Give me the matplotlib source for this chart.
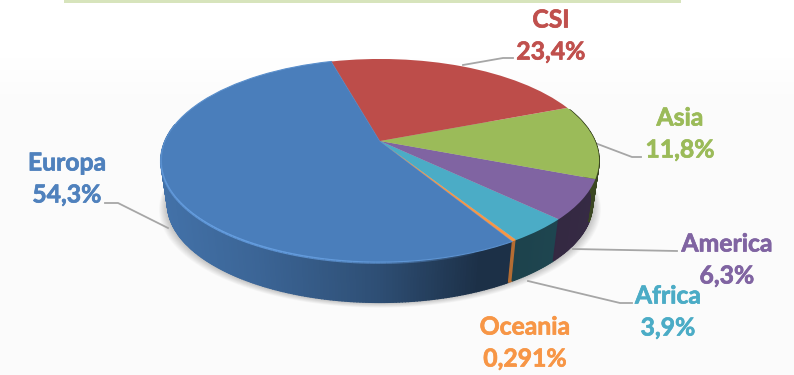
#!/usr/bin/env python3
"""Tilted 3D-look pie of shares by region."""

import matplotlib

matplotlib.use("Agg")
import matplotlib.pyplot as plt
import matplotlib.patheffects as pe
import numpy as np
from matplotlib.colors import to_rgb
from matplotlib.transforms import Transform

plt.rcParams["font.family"] = ["Lato", "DejaVu Sans"]

# ── data ──────────────────────────────────────────
regions = ["Europa", "Oceania", "Africa", "America", "Asia", "CSI"]
shares = [54.3, 0.291, 3.9, 6.3, 11.8, 23.4]
share_text = ["54,3%", "0,291%", "3,9%", "6,3%", "11,8%", "23,4%"]

# ── styles ────────────────────────────────────────
colors = ["#4a7ebb", "#f79646", "#4bacc6", "#8064a2", "#9bbb59", "#bd4d4a"]
text_colors = ["#4f81bd", "#f79646", "#4bacc6", "#8064a2", "#9bbb59", "#c0504d"]
wall_gain = [1.0, 1.9, 1.0, 1.0, 0.9, 1.0]
label_pos = [(67, 163), (525, 327), (668, 296), (727, 244), (680, 118), (551, 20)]
label_gap = 32
leaders = [
    [(168, 228), (118, 203), (105, 203)],
    None,
    [(528, 281), (620, 303), (632, 303)],
    [(573, 249), (677, 251)],
    [(595, 143), (632, 157), (641, 157)],
    [(463, 65), (503, 58), (513, 58)],
]

# picture geometry, in pixels
APEX_X, APEX_Y = 380, 141
A, B, K = 215, 97.8, 0.192
DEPTH, SHRINK = 44, 0.97
START = 105.5


class TiltTransform(Transform):
    """Unit pie circle -> tilted disc, near side bigger than far side."""
    input_dims = output_dims = 2

    def __init__(self, scale=1.0, drop=0.0):
        super().__init__()
        self.scale = scale
        self.drop = drop

    def transform_non_affine(self, values):
        values = np.asarray(values)
        u, v = values[:, 0], values[:, 1]
        den = 1 + K * v
        x = APEX_X + self.scale * A * u / den
        y = APEX_Y + self.drop - self.scale * B * v / den
        return np.column_stack((x, y))


def rim(t_deg, tr):
    t = np.radians(t_deg)
    return tr.transform_non_affine(np.column_stack((np.cos(t), np.sin(t))))


fig = plt.figure(figsize=(7.94, 3.75), dpi=100)
ax = fig.add_axes([0, 0, 1, 1])

top = TiltTransform()
bottom = TiltTransform(SHRINK, DEPTH)

wedges, _ = ax.pie(shares, startangle=START, counterclock=True, colors=colors, radius=1)
for w in wedges:
    w.set_transform(top + ax.transData)
    w.set_zorder(5)
wedges[0].set_edgecolor("#5a8fcc")
wedges[0].set_linewidth(0.8)

# ── background and soft shadow ────────────────────
fade_rows = np.interp(np.arange(375), [45, 95], [1.0, 0.984]).reshape(-1, 1)
ax.imshow(fade_rows, cmap="gray", vmin=0, vmax=1, extent=(0, 794, 375, 0), aspect="auto", zorder=0)
ax.fill_between([64, 681], 0, 2.6, color="#d7e4bc", lw=0, zorder=1)
ring = rim(np.linspace(0, 360, 181), bottom)
for grow in np.linspace(1, 12, 12):
    ax.fill(
        APEX_X + (ring[:, 0] - APEX_X) * (1 + grow / 300),
        ring[:, 1] + grow * 0.45,
        color="#000000", alpha=0.02, lw=0, zorder=1,
    )

ax.set_aspect("auto")
ax.set_xlim(0, 794)
ax.set_ylim(375, 0)
ax.axis("off")

# ── side wall, shaded left to right ───────────────
shade_x = [165, 260, 380, 480, 505, 590]
shade_f = [0.9, 0.8, 0.62, 0.38, 0.38, 0.42]
for w, base, gain in zip(wedges, colors, wall_gain):
    t0, t1 = max(w.theta1, 170), min(w.theta2, 380)
    if t1 <= t0:
        continue
    ts = np.linspace(t0, t1, max(int((t1 - t0) * 1.5), 2) + 1)
    upper, lower = rim(ts, top), rim(ts, bottom)
    for i in range(len(ts) - 1):
        xs = [upper[i, 0], upper[i + 1, 0], lower[i + 1, 0], lower[i, 0]]
        ys = [upper[i, 1], upper[i + 1, 1], lower[i + 1, 1], lower[i, 1]]
        f = np.interp(np.mean(xs), shade_x, shade_f) * gain
        c = np.clip(np.array(to_rgb(base)) * f, 0, 1)
        ax.fill(xs, ys, color=c, lw=1.0, zorder=3)

# bevel highlight along the front rim of the big slice
ts = np.linspace(182, wedges[0].theta2 - 10, 90)
pts = rim(ts, top)
for i in range(len(ts) - 1):
    fade = np.sin(np.pi * i / (len(ts) - 1)) ** 0.7
    ax.plot(pts[i:i + 2, 0], pts[i:i + 2, 1] + 0.8, color="#6aa5ea", lw=1.6,
            alpha=0.75 * fade, solid_capstyle="butt", zorder=6)

# ── labels and leader lines ───────────────────────
for name, pct, col, (x, y) in zip(regions, share_text, text_colors, label_pos):
    for s, yy in ((name, y), (pct, y + label_gap)):
        t = ax.text(x, yy, s, color=col, fontsize=17.8, fontweight="bold", ha="center", va="center", zorder=8)
        t.set_path_effects([pe.withStroke(linewidth=0.5, foreground=col)])

for line in leaders:
    if line:
        xs, ys = zip(*line)
        ax.plot(xs, ys, color="#a6a6a6", lw=1.3, zorder=2.5, solid_joinstyle="round")

fig.savefig("out.png", dpi=100)
